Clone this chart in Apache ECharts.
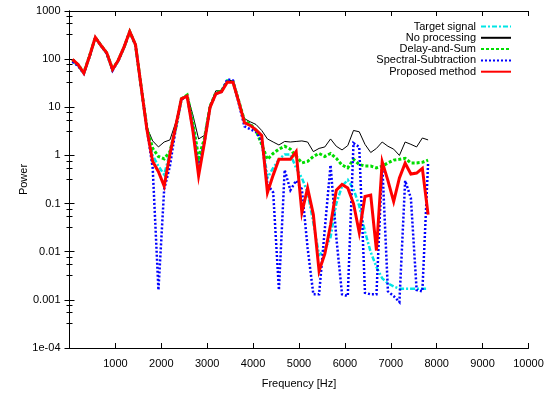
<!DOCTYPE html>
<html>
<head>
<meta charset="utf-8">
<script src="https://cdn.jsdelivr.net/npm/echarts@6/dist/echarts.min.js"></script>
<style>
  html, body { margin: 0; padding: 0; background: #fff; }
  #chart { width: 551px; height: 394px; }
</style>
</head>
<body>
<div id="chart"></div>
<script>
// frequency bins [Hz]
const freq = [
  62.5, 187.5, 312.5, 437.5, 562.5, 687.5, 812.5, 937.5, 1062.5, 1187.5,
  1312.5, 1437.5, 1562.5, 1687.5, 1812.5, 1937.5, 2062.5, 2187.5, 2312.5, 2437.5,
  2562.5, 2687.5, 2812.5, 2937.5, 3062.5, 3187.5, 3312.5, 3437.5, 3562.5, 3687.5,
  3812.5, 3937.5, 4062.5, 4187.5, 4312.5, 4437.5, 4562.5, 4687.5, 4812.5, 4937.5,
  5062.5, 5187.5, 5312.5, 5437.5, 5562.5, 5687.5, 5812.5, 5937.5, 6062.5, 6187.5,
  6312.5, 6437.5, 6562.5, 6687.5, 6812.5, 6937.5, 7062.5, 7187.5, 7312.5, 7437.5,
  7562.5, 7687.5, 7812.5
];

const target = [
  90, 74, 50, 115, 282, 190, 132, 59, 93, 176,
  374, 198, 26, 3.6, 1.0, 0.6, 0.4, 1.1, 3.8, 15,
  17.5, 4.5, 0.65, 2.0, 10.5, 20, 22, 36, 34, 13,
  5, 4.4, 3.3, 2.4, 0.34, 0.55, 0.83, 1.05, 1.05, 0.55,
  0.34, 0.17, 0.04, 0.0085, 0.011, 0.02, 0.1, 0.23, 0.31, 0.2,
  0.09, 0.026, 0.0098, 0.0048, 0.0028, 0.0022, 0.0019, 0.0017, 0.0017, 0.0017,
  0.0017, 0.0017, 0.0017
];

const noProcessing = [
  98, 76, 52, 118, 285, 195, 136, 63, 96, 180,
  380, 205, 26, 3.8, 2.0, 1.5, 1.9, 2.1, 4.8, 15,
  18, 7, 2.2, 2.6, 10.7, 22, 22, 36, 36, 13,
  5.8, 5.0, 4.4, 3.3, 2.2, 1.9, 1.65, 1.95, 1.9, 1.95,
  2.0, 1.9, 1.2, 1.4, 1.5, 2.2, 1.55, 1.3, 1.6, 3.3,
  3.1, 1.7, 1.15, 1.4, 1.9, 1.55, 1.35, 1.0, 1.9, 1.7,
  1.5, 2.3, 2.1
];

const delayAndSum = [
  97, 76, 53, 117, 282, 193, 134, 62, 95, 176,
  372, 198, 26, 3.7, 1.4, 0.95, 0.85, 1.2, 3.6, 15,
  18, 5, 0.9, 2.2, 10.5, 20, 22, 35, 34, 13.5,
  5.3, 4.5, 3.3, 1.7, 0.83, 1.1, 1.35, 1.55, 1.35, 0.95,
  0.7, 0.75, 0.95, 1.1, 0.95, 1.1, 0.87, 0.63, 0.55, 0.83,
  0.65, 0.6, 0.6, 0.55, 0.6, 0.7, 0.8, 0.83, 0.87, 0.7,
  0.7, 0.72, 0.8
];

const spectralSub = [
  88, 72, 50, 114, 280, 188, 130, 58, 92, 174,
  370, 196, 25, 3.5, 0.55, 0.0016, 0.2, 0.6, 3.5, 14.5,
  17, 3.5, 0.5, 1.8, 10, 19, 21, 38, 36, 12,
  4.0, 3.5, 3.1, 2.0, 0.25, 0.17, 0.0016, 0.5, 0.19, 0.3,
  0.2, 0.012, 0.0013, 0.0013, 0.03, 0.63, 0.02, 0.0013, 0.0012, 1.8,
  1.5, 0.0014, 0.0013, 0.0013, 0.7, 0.0015, 0.0012, 0.0009, 0.3, 0.13,
  0.0016, 0.0015, 0.7
];

const proposed = [
  99, 77, 51, 116, 283, 192, 135, 61, 95, 178,
  376, 200, 26, 3.4, 0.75, 0.46, 0.23, 1.05, 4, 15,
  17, 3.3, 0.38, 1.8, 10, 19, 21, 33, 33, 13,
  4.8, 4.2, 3.4, 2.6, 0.17, 0.39, 0.83, 0.83, 0.83, 1.2,
  0.065, 0.21, 0.059, 0.004, 0.009, 0.036, 0.19, 0.25, 0.21, 0.1,
  0.025, 0.14, 0.15, 0.0106, 0.74, 0.3, 0.11, 0.34, 0.69, 0.41,
  0.43, 0.54, 0.059
];

const yTickLabels = ['1e-04', '0.001', '0.01', '0.1', '1', '10', '100', '1000'];

const chart = echarts.init(document.getElementById('chart'));
const font = 'Liberation Sans, Arial, sans-serif';

const pairs = (vals) => vals.map((v, i) => [freq[i], v]);

const line = (name, vals, color, width, type) => ({
  name,
  type: 'line',
  data: pairs(vals),
  showSymbol: false,
  symbol: 'none',
  lineStyle: { color, width, type, cap: 'butt', join: 'miter' },
  itemStyle: { color },
  xAxisIndex: 0,
  yAxisIndex: 0,
});

const xBase = {
  type: 'value',
  min: 0,
  max: 10000,
  interval: 1000,
  axisLine: { lineStyle: { color: '#000', width: 1 } },
  axisTick: { inside: true, length: 5, lineStyle: { color: '#000' } },
  splitLine: { show: false },
};

const yBase = {
  type: 'log',
  logBase: 10,
  min: 1e-4,
  max: 1000,
  splitNumber: 7,
  axisLine: { show: true, lineStyle: { color: '#000', width: 1 } },
  axisTick: { inside: true, length: 5, lineStyle: { color: '#000' } },
  minorTick: { show: true, splitNumber: 4, length: 3, lineStyle: { color: '#000' } },
  splitLine: { show: false },
};

chart.setOption({
  animation: false,
  backgroundColor: '#fff',
  grid: { left: 69.5, right: 22.5, top: 11, bottom: 43 },
  legend: {
    orient: 'vertical',
    right: 34,
    top: 16,
    align: 'right',
    itemWidth: 30,
    itemHeight: 10,
    itemGap: 0.3,
    itemStyle: { opacity: 0, borderWidth: 0 },
    textStyle: { fontFamily: font, fontSize: 11, color: '#000', lineHeight: 10 },
    data: ['Target signal', 'No processing', 'Delay-and-Sum', 'Spectral-Subtraction', 'Proposed method'],
  },
  xAxis: [
    Object.assign({}, xBase, {
      position: 'bottom',
      name: 'Frequency [Hz]',
      nameLocation: 'middle',
      nameGap: 30,
      nameMoveOverlap: false,
      nameTextStyle: { fontFamily: font, fontSize: 11, color: '#000' },
      axisLabel: {
        fontFamily: font, fontSize: 11, color: '#000', margin: 10,
        formatter: (v) => (v === 0 ? '' : String(v)),
      },
    }),
    Object.assign({}, xBase, { position: 'top', axisLabel: { show: false } }),
  ],
  yAxis: [
    Object.assign({}, yBase, {
      position: 'left',
      name: 'Power',
      nameLocation: 'middle',
      nameGap: 40,
      nameRotate: 90,
      nameMoveOverlap: false,
      nameTextStyle: { fontFamily: font, fontSize: 11, color: '#000' },
      axisLabel: {
        fontFamily: font, fontSize: 11, color: '#000', margin: 9,
        formatter: (v) => yTickLabels[Math.round(Math.log10(v)) + 4] || '',
      },
    }),
    Object.assign({}, yBase, { position: 'right', axisLabel: { show: false } }),
  ],
  series: [
    line('Target signal', target, '#00e5e5', 2.5, [5, 2, 2, 2]),
    line('No processing', noProcessing, '#000000', 1, 'solid'),
    line('Delay-and-Sum', delayAndSum, '#00dd00', 3, [3, 2]),
    line('Spectral-Subtraction', spectralSub, '#0000ff', 2.5, [2, 2]),
    line('Proposed method', proposed, '#ff0000', 3, 'solid'),
  ],
});
</script>
</body>
</html>
